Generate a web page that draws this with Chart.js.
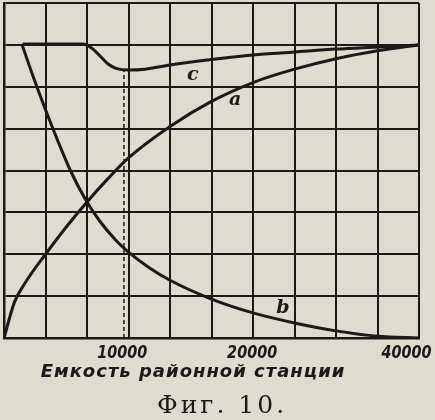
<!DOCTYPE html>
<html lang="ru">
<head>
    <meta charset="UTF-8">
    <title>Фиг. 10</title>
    <script src="https://cdn.jsdelivr.net/npm/chart.js"></script>
    <style>
body {
    margin: 0;
    padding: 0;
    background-color: #dedbcf;
}
    </style>
</head>
<body>
    <canvas id="fig10" width="435" height="420"></canvas>

    <script>
        // x and y are in grid cells (10 columns, 8 rows)
        const aX = [0, 0.25, 0.5, 1, 1.5, 2, 2.5, 3, 4, 5, 6, 7, 8, 9, 10];
        const aY = [0, 0.85, 1.3, 2.0, 2.65, 3.25, 3.8, 4.3, 5.05, 5.65, 6.1, 6.42, 6.67, 6.86, 7.0];

        const bX = [0.43, 0.7, 1.0, 1.3, 1.6, 1.95, 2.3, 2.7, 3.0, 3.5, 4, 5, 6, 7, 8, 9, 10];
        const bY = [7.02, 6.25, 5.45, 4.7, 4.0, 3.33, 2.8, 2.33, 2.05, 1.68, 1.38, 0.93, 0.6, 0.36, 0.17, 0.04, 0];

        const cX = [0.45, 1.9, 2.1, 2.3, 2.5, 2.7, 3.0, 3.4, 4.0, 5.0, 6.0, 7.0, 8.0, 9.0, 10];
        const cY = [7.02, 7.02, 6.93, 6.75, 6.55, 6.44, 6.40, 6.42, 6.52, 6.65, 6.76, 6.83, 6.90, 6.95, 7.0];

        // dashed marker at 10000
        const markX = [2.89, 2.89];
        const markY = [0, 6.38];

        const tickPos = [2.85, 5.98, 9.7];
        const tickLabels = ['10000', '20000', '40000'];

        const curveNames = ['c', 'a', 'b'];
        const nameX = [4.55, 5.57, 6.72];
        const nameY = [6.27, 5.68, 0.72];

        const xTitle = 'Емкость районной станции';
        const caption = 'Фиг. 10.';

        function pts(xs, ys) {
            return xs.map((x, i) => ({ x: x, y: ys[i] }));
        }

        const ink = '#1b1a17';

        function curve(xs, ys) {
            return {
                data: pts(xs, ys),
                borderColor: ink,
                borderWidth: 3,
                pointRadius: 0,
                fill: false,
                cubicInterpolationMode: 'monotone'
            };
        }

        // draws tick labels, curve names, axis title and caption
        const textPlugin = {
            id: 'figText',
            afterDraw(chart) {
                const ctx = chart.ctx;
                const xs = chart.scales.x;
                const ys = chart.scales.y;
                const area = chart.chartArea;
                ctx.save();
                ctx.fillStyle = ink;
                ctx.textAlign = 'center';
                ctx.textBaseline = 'middle';

                // tick numbers are tall and narrow in the print
                ctx.font = 'italic bold 18px "DejaVu Sans"';
                tickPos.forEach((p, i) => {
                    ctx.save();
                    ctx.translate(xs.getPixelForValue(p), area.bottom + 15);
                    ctx.scale(0.8, 1);
                    ctx.fillText(tickLabels[i], 0, 0);
                    ctx.restore();
                });

                ctx.font = 'italic bold 19px "DejaVu Serif"';
                curveNames.forEach((n, i) => {
                    ctx.fillText(n, xs.getPixelForValue(nameX[i]), ys.getPixelForValue(nameY[i]));
                });

                ctx.font = 'italic bold 18px "DejaVu Sans"';
                ctx.letterSpacing = '1px';
                ctx.fillText(xTitle, 193, area.bottom + 34);

                ctx.font = '25px "DejaVu Serif"';
                ctx.letterSpacing = '3px';
                ctx.fillText(caption, 222, area.bottom + 68);
                ctx.restore();
            }
        };

        const ctx = document.getElementById('fig10').getContext('2d');
        const chart = new Chart(ctx, {
            type: 'line',
            data: {
                datasets: [
                    curve(aX, aY),
                    curve(bX, bY),
                    curve(cX, cY),
                    {
                        data: pts(markX, markY),
                        borderColor: ink,
                        borderWidth: 1.5,
                        borderDash: [4, 3],
                        pointRadius: 0,
                        fill: false
                    }
                ]
            },
            options: {
                responsive: false,
                animation: false,
                maintainAspectRatio: false,
                layout: {
                    padding: { left: 4, right: 16, top: 3, bottom: 82 }
                },
                plugins: {
                    legend: { display: false },
                    tooltip: { enabled: false }
                },
                scales: {
                    x: {
                        type: 'linear',
                        min: 0,
                        max: 10,
                        ticks: { display: false, stepSize: 1 },
                        grid: { color: ink, lineWidth: 2, drawTicks: false },
                        border: { color: ink, width: 2.5 }
                    },
                    y: {
                        min: 0,
                        max: 8,
                        ticks: { display: false, stepSize: 1 },
                        grid: { color: ink, lineWidth: 2, drawTicks: false },
                        border: { color: ink, width: 2.5 }
                    }
                }
            },
            plugins: [textPlugin]
        });
    </script>
</body>
</html>
